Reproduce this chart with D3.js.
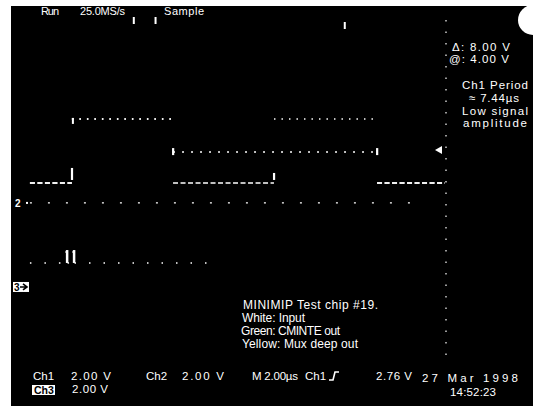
<!DOCTYPE html>
<html>
<head>
<meta charset="utf-8">
<script src="https://cdn.jsdelivr.net/npm/d3@7"></script>
<style>
  html, body { margin: 0; padding: 0; background: #fff; }
  svg { display: block; }
  text { font-family: "Liberation Sans", Arial, sans-serif; fill: #fff; }
</style>
</head>
<body>
<svg id="scope" width="533" height="406"></svg>
<script>
// Acquisition window: 10 divisions at 2.00 µs/div, 8 divisions at 2.00 V/div
const timeDomainUs = [0, 20];
const voltDomain = [-8, 8];

// Channel 1 (white: input) – step vertices
const inputTimes  = [0.87, 2.80, 7.45, 12.09, 16.83, 19.95];
const inputVolts  = [0.24, 3.29, 0.24, 3.29, 0.24, 0.24];

// Channel 2 (green: CMINTE out)
const cminteTimes = [0.87, 2.80, 7.45, 16.83, 19.95];
const cminteVolts = [0.24, 3.29, 1.71, 0.24, 0.24];

// Channel 3 (yellow: Mux deep out) – low level with two short glitches
const muxTimes = [0.87, 2.50, 2.60, 2.82, 2.92, 9.0];
const muxVolts = [-3.57, -3.05, -3.57, -3.05, -3.57, -3.57];

// Channel 2 ground reference
const groundVolt = -0.71;
const groundSpanUs = [0.87, 18.8];

// Trigger position marks along the top edge (µs)
const triggerMarksUs = [5.6, 6.6, 15.3];

// Trigger level marker
const triggerLevelVolt = 1.81;

// Readout texts
const headerTexts = ["Run", "25.0MS/s", "Sample"];
const cursorTexts = ["\u0394: 8.00 V", "@: 4.00 V"];
const measureTexts = ["Ch1 Period", "\u2248 7.44\u00b5s", "Low signal", "amplitude"];
const noteTexts = ["MINIMIP Test chip #19.", "White: Input", "Green: CMINTE out", "Yellow: Mux deep out"];
const scaleTexts = ["Ch1", "2.00 V", "Ch2", "2.00 V", "M 2.00\u00b5s", "Ch1", "2.76 V"];
const ch3Texts = ["Ch3", "2.00 V"];
const dateTexts = ["27 Mar 1998", "14:52:23"];

const svg = d3.select("#scope");

// Screen: white frame strip on left and top, black display
svg.append("rect").attr("x", 0).attr("y", 0).attr("width", 533).attr("height", 406).attr("fill", "#fff");
svg.append("rect").attr("x", 11).attr("y", 6).attr("width", 522).attr("height", 400).attr("fill", "#000");
svg.append("circle").attr("cx", 533).attr("cy", 20).attr("r", 15).attr("fill", "#fff");

const x = d3.scaleLinear().domain(timeDomainUs).range([11, 446]);
const y = d3.scaleLinear().domain(voltDomain).range([356, 20]);

// Right graticule edge, dotted
svg.append("line")
  .attr("x1", x(20)).attr("x2", x(20))
  .attr("y1", y(8)).attr("y2", y(-8))
  .attr("stroke", "#fff").attr("stroke-width", 1.2)
  .attr("stroke-dasharray", "1.5,10");

// Ground reference dotted line and marker
svg.append("line")
  .attr("x1", x(groundSpanUs[0])).attr("x2", x(groundSpanUs[1]))
  .attr("y1", y(groundVolt)).attr("y2", y(groundVolt))
  .attr("stroke", "#fff").attr("stroke-width", 1.3)
  .attr("stroke-dasharray", "2,16");
svg.append("text").attr("x", 15).attr("y", y(groundVolt) + 4)
  .attr("font-size", 10).attr("font-weight", "bold").text("2");
svg.append("rect").attr("x", 26).attr("y", y(groundVolt) - 1).attr("width", 2).attr("height", 2).attr("fill", "#fff");

// Channel 3 marker box
const ch3Y = y(muxVolts[0]) + 24;
svg.append("rect").attr("x", 13).attr("y", ch3Y - 5).attr("width", 16).attr("height", 10).attr("fill", "#fff");
svg.append("text").attr("x", 14).attr("y", ch3Y + 4).attr("font-size", 10).attr("font-weight", "bold")
  .style("fill", "#000").text("3");
svg.append("path").attr("d", `M20,${ch3Y} L26,${ch3Y} M23,${ch3Y - 3} L27,${ch3Y} L23,${ch3Y + 3}`)
  .attr("stroke", "#000").attr("stroke-width", 1.6).attr("fill", "none");

// Waveforms: each held level is drawn as a horizontal run of samples;
// the fast edges only leave short bright streaks.
function levels(times, volts) {
  return d3.range(times.length - 1).map(i => ({ t0: times[i], t1: times[i + 1], v: volts[i] }));
}
function dashFor(v) {
  if (v > 3) return "1.5,6";      // top level: sparse dots
  if (v > 1) return "2,7";        // intermediate level
  if (v > -1) return "5,2.5";     // low level: dense
  return "1.5,13";                // channel 3 baseline
}
function trace(times, volts) {
  svg.append("g").selectAll("line").data(levels(times, volts)).join("line")
    .attr("x1", d => x(d.t0)).attr("x2", d => x(d.t1))
    .attr("y1", d => y(d.v)).attr("y2", d => y(d.v))
    .attr("stroke", "#fff").attr("stroke-width", 1.5)
    .attr("stroke-dasharray", d => dashFor(d.v));
}
trace(muxTimes, muxVolts);
trace(cminteTimes, cminteVolts);
trace(inputTimes, inputVolts);

// Edge streaks of channel 1: rising edges leave a streak just above the low level,
// falling edges one around the channel 2 intermediate level
const midV = cminteVolts[2];
d3.range(1, inputTimes.length - 1).forEach(i => {
  const t = inputTimes[i], rising = inputVolts[i] > inputVolts[i - 1];
  const yA = rising ? y(inputVolts[i - 1]) - 3 : y(midV) - 4;
  const yB = rising ? y(inputVolts[i - 1]) - (i === 1 ? 15 : 10) : y(midV) + 3;
  svg.append("rect").attr("x", x(t) - 1).attr("y", Math.min(yA, yB))
    .attr("width", 2.2).attr("height", Math.abs(yB - yA)).attr("fill", "#fff");
  if (rising && i === 1) {
    svg.append("rect").attr("x", x(t)).attr("y", y(inputVolts[i]) - 1)
      .attr("width", 2).attr("height", 6).attr("fill", "#fff");
  }
});
// Glitch bars on channel 3
[muxTimes[1], muxTimes[3]].forEach(t => {
  svg.append("rect").attr("x", x(t) + 0.5).attr("y", y(muxVolts[1]) - 2)
    .attr("width", 2.5).attr("height", y(muxVolts[0]) - y(muxVolts[1]) + 2).attr("fill", "#fff");
});

// Trigger level marker (left pointing)
const ty = y(triggerLevelVolt);
svg.append("path").attr("d", `M435,${ty} L442,${ty - 4} L442,${ty + 4} Z`).attr("fill", "#fff");

// Trigger position marks
triggerMarksUs.forEach((t, i) => {
  svg.append("rect").attr("x", x(t)).attr("y", i < 2 ? 17 : 22).attr("width", 2).attr("height", 7).attr("fill", "#fff");
});

// Helper for fixed-width readout text
function label(g, str, px, py, width, size) {
  const t = g.append("text").attr("x", px).attr("y", py).attr("font-size", size).text(str);
  if (width) t.attr("textLength", width).attr("lengthAdjust", "spacing");
  return t;
}

// Header
const hdr = svg.append("g");
label(hdr, headerTexts[0], 41, 15, 18, 11);
label(hdr, headerTexts[1], 80, 15, 45, 11);
label(hdr, headerTexts[2], 164, 15, 40, 11);

// Cursor and measurement readout
const side = svg.append("g");
label(side, cursorTexts[0], 452, 51, 58, 11.5);
label(side, cursorTexts[1], 449, 63, 60, 11.5);
label(side, measureTexts[0], 462, 89, 66, 11.5);
label(side, measureTexts[1], 469, 102, 50, 11.5);
label(side, measureTexts[2], 462, 115, 66, 11.5);
label(side, measureTexts[3], 463, 127, 64, 11.5);

// Annotation block
const note = svg.append("g");
label(note, noteTexts[0], 243, 309, 135, 12);
label(note, noteTexts[1], 242, 322, 63, 12);
label(note, noteTexts[2], 241, 335, 99, 12);
label(note, noteTexts[3], 242, 348, 116, 12);

// Bottom scale readout
svg.append("rect").attr("x", 32).attr("y", 385).attr("width", 23).attr("height", 10).attr("fill", "#fff");
const bot = svg.append("g");
const scaleX = [33, 71, 146, 182, 252, 305, 376];
const scaleW = [null, 40, null, 42, 46, null, 36];
scaleTexts.forEach((t, i) => label(bot, t, scaleX[i], 380, scaleW[i], 11.5));
svg.append("path").attr("d", "M329,380 L333,380 L335,372 L339,372")
  .attr("stroke", "#fff").attr("stroke-width", 1.6).attr("fill", "none");
label(bot, ch3Texts[0], 34, 393.5, null, 10.5).style("fill", "#000").attr("font-weight", "bold");
label(bot, ch3Texts[1], 72, 393, 36, 11.5);
label(bot, dateTexts[0], 422, 382, 96, 11.5);
label(bot, dateTexts[1], 450, 396, 46, 11.5);
</script>
</body>
</html>
